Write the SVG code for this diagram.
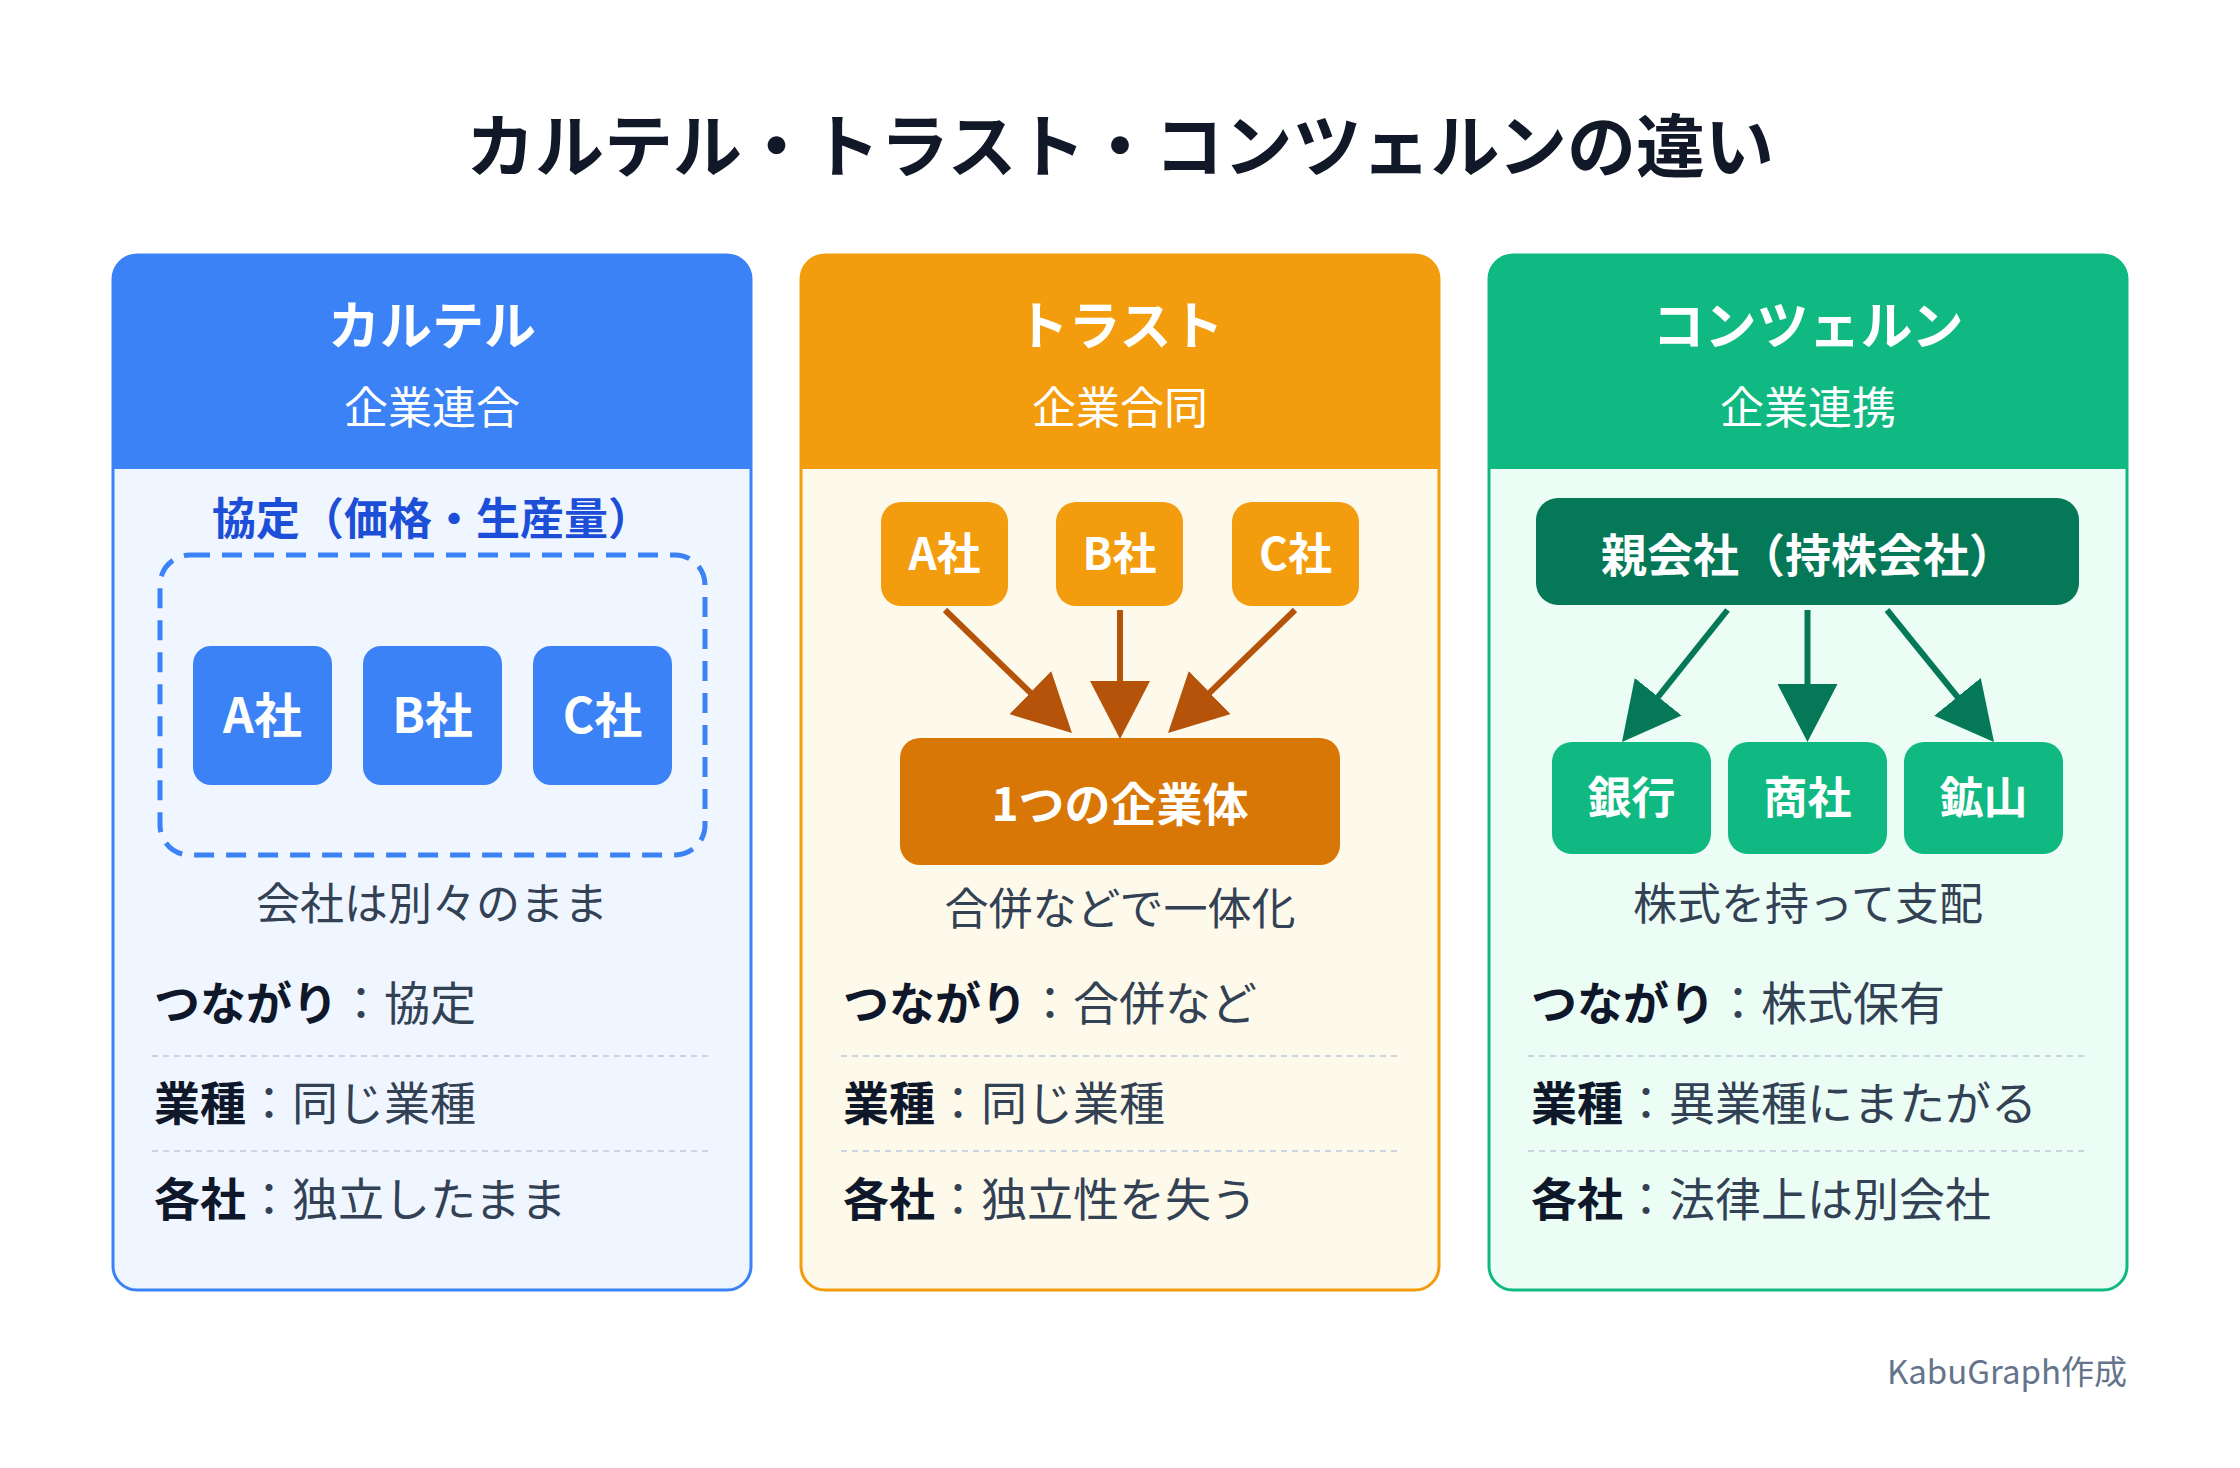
<svg xmlns="http://www.w3.org/2000/svg" width="2240" height="1468" viewBox="0 0 2240 1468">
<defs>
<style>
text{font-family:"Noto Sans CJK JP","Noto Sans",sans-serif;}
.title{font-size:69px;font-weight:700;fill:#111827;}
.htitle{font-size:52px;font-weight:700;fill:#ffffff;}
.hsub{font-size:44px;font-weight:400;fill:#ffffff;}
.box{font-size:46px;font-weight:700;fill:#ffffff;}
.desc{font-size:44px;font-weight:400;fill:#334155;}
.row{font-size:46px;font-weight:400;fill:#334155;}
.lab{font-weight:700;fill:#0F172A;}
.sep{stroke:#CBD5E1;stroke-width:2;stroke-dasharray:6 5;fill:none;}
.foot{font-size:33px;font-weight:400;fill:#64748B;}
</style>
<marker id="ahO" markerUnits="userSpaceOnUse" markerWidth="58" markerHeight="60" viewBox="0 0 58 60" refX="38" refY="30" orient="auto">
<path d="M0,0 L58,30 L0,60 Z" fill="#B45309"/>
</marker>
<marker id="ahG" markerUnits="userSpaceOnUse" markerWidth="58" markerHeight="60" viewBox="0 0 58 60" refX="38" refY="30" orient="auto">
<path d="M0,0 L58,30 L0,60 Z" fill="#047857"/>
</marker>
</defs>
<rect width="2240" height="1468" fill="#ffffff"/>
<text class="title" x="1120" y="172" text-anchor="middle">カルテル・トラスト・コンツェルンの違い</text>

<!-- Panel 1: Cartel -->
<g id="panel-cartel">
<rect x="113" y="255" width="638" height="1035" rx="24" fill="#EFF6FF"/>
<path d="M113,469 V279 A24,24 0 0 1 137,255 H727 A24,24 0 0 1 751,279 V469 Z" fill="#3B82F6"/>
<rect x="113" y="255" width="638" height="1035" rx="24" fill="none" stroke="#3B82F6" stroke-width="3"/>
<text class="htitle" x="432" y="345" text-anchor="middle">カルテル</text>
<text class="hsub" x="432" y="424" text-anchor="middle">企業連合</text>
<text x="432" y="535" text-anchor="middle" style="font-size:44px;font-weight:700;fill:#1D4ED8;">協定（価格・生産量）</text>
<rect x="160" y="555" width="545" height="300" rx="30" fill="none" stroke="#3B82F6" stroke-width="5" stroke-dasharray="20 12"/>
<text class="desc" x="432" y="920" text-anchor="middle">会社は別々のまま</text>
<line class="sep" x1="152" y1="1056" x2="712" y2="1056"/>
<line class="sep" x1="152" y1="1151" x2="712" y2="1151"/>
<text class="row" x="154" y="1020"><tspan class="lab">つながり</tspan>：協定</text>
<text class="row" x="154" y="1120"><tspan class="lab">業種</tspan>：同じ業種</text>
<text class="row" x="154" y="1216"><tspan class="lab">各社</tspan>：独立したまま</text>
</g>
<g id="cartel-a">
<rect x="193" y="646" width="139" height="139" rx="18" fill="#3B82F6"/>
<text class="box" x="262.5" y="733" text-anchor="middle" style="font-size:48px;">A社</text>
</g>
<g id="cartel-b">
<rect x="363" y="646" width="139" height="139" rx="18" fill="#3B82F6"/>
<text class="box" x="432.5" y="733" text-anchor="middle" style="font-size:48px;">B社</text>
</g>
<g id="cartel-c">
<rect x="533" y="646" width="139" height="139" rx="18" fill="#3B82F6"/>
<text class="box" x="602.5" y="733" text-anchor="middle" style="font-size:48px;">C社</text>
</g>

<!-- Panel 2: Trust -->
<g id="panel-trust">
<rect x="801" y="255" width="638" height="1035" rx="24" fill="#FEFAEB"/>
<path d="M801,469 V279 A24,24 0 0 1 825,255 H1415 A24,24 0 0 1 1439,279 V469 Z" fill="#F39C0E"/>
<rect x="801" y="255" width="638" height="1035" rx="24" fill="none" stroke="#F39C0E" stroke-width="3"/>
<text class="htitle" x="1120" y="345" text-anchor="middle">トラスト</text>
<text class="hsub" x="1120" y="424" text-anchor="middle">企業合同</text>
<text class="desc" x="1120" y="925" text-anchor="middle">合併などで一体化</text>
<line class="sep" x1="841" y1="1056" x2="1400" y2="1056"/>
<line class="sep" x1="841" y1="1151" x2="1400" y2="1151"/>
<text class="row" x="843" y="1020"><tspan class="lab">つながり</tspan>：合併など</text>
<text class="row" x="843" y="1120"><tspan class="lab">業種</tspan>：同じ業種</text>
<text class="row" x="843" y="1216"><tspan class="lab">各社</tspan>：独立性を失う</text>
</g>
<g id="trust-a">
<rect x="881" y="502" width="127" height="104" rx="20" fill="#F39C0E"/>
<text class="box" x="944.5" y="570" text-anchor="middle" style="font-size:44px;">A社</text>
</g>
<g id="trust-b">
<rect x="1056" y="502" width="127" height="104" rx="20" fill="#F39C0E"/>
<text class="box" x="1119.5" y="570" text-anchor="middle" style="font-size:44px;">B社</text>
</g>
<g id="trust-c">
<rect x="1232" y="502" width="127" height="104" rx="20" fill="#F39C0E"/>
<text class="box" x="1295.5" y="570" text-anchor="middle" style="font-size:44px;">C社</text>
</g>
<g id="trust-one">
<rect x="900" y="738" width="440" height="127" rx="20" fill="#D97706"/>
<text class="box" x="1120" y="821" text-anchor="middle">1つの企業体</text>
</g>

<!-- Panel 3: Konzern -->
<g id="panel-konzern">
<rect x="1489" y="255" width="638" height="1035" rx="24" fill="#ECFDF5"/>
<path d="M1489,469 V279 A24,24 0 0 1 1513,255 H2103 A24,24 0 0 1 2127,279 V469 Z" fill="#10B981"/>
<rect x="1489" y="255" width="638" height="1035" rx="24" fill="none" stroke="#10B981" stroke-width="3"/>
<text class="htitle" x="1808" y="345" text-anchor="middle">コンツェルン</text>
<text class="hsub" x="1808" y="424" text-anchor="middle">企業連携</text>
<text class="desc" x="1808" y="920" text-anchor="middle">株式を持って支配</text>
<line class="sep" x1="1528" y1="1056" x2="2088" y2="1056"/>
<line class="sep" x1="1528" y1="1151" x2="2088" y2="1151"/>
<text class="row" x="1531" y="1020"><tspan class="lab">つながり</tspan>：株式保有</text>
<text class="row" x="1531" y="1120"><tspan class="lab">業種</tspan>：異業種にまたがる</text>
<text class="row" x="1531" y="1216"><tspan class="lab">各社</tspan>：法律上は別会社</text>
</g>
<g id="konzern-parent">
<rect x="1536" y="498" width="543" height="107" rx="22" fill="#047857"/>
<text class="box" x="1808" y="572" text-anchor="middle">親会社（持株会社）</text>
</g>
<g id="konzern-bank">
<rect x="1552" y="742" width="159" height="112" rx="20" fill="#10B981"/>
<text class="box" x="1631.5" y="814" text-anchor="middle" style="font-size:44px;">銀行</text>
</g>
<g id="konzern-trade">
<rect x="1728" y="742" width="159" height="112" rx="20" fill="#10B981"/>
<text class="box" x="1807.5" y="814" text-anchor="middle" style="font-size:44px;">商社</text>
</g>
<g id="konzern-mine">
<rect x="1904" y="742" width="159" height="112" rx="20" fill="#10B981"/>
<text class="box" x="1983.5" y="814" text-anchor="middle" style="font-size:44px;">鉱山</text>
</g>

<g id="connectors" fill="none" stroke-width="6">
<line x1="945" y1="610" x2="1057.6" y2="719.1" stroke="#B45309" marker-end="url(#ahO)"/>
<line x1="1120" y1="610" x2="1120" y2="719" stroke="#B45309" marker-end="url(#ahO)"/>
<line x1="1295" y1="610" x2="1182.4" y2="719.1" stroke="#B45309" marker-end="url(#ahO)"/>
<line x1="1727.5" y1="610" x2="1634.5" y2="726.4" stroke="#047857" marker-end="url(#ahG)"/>
<line x1="1807.5" y1="610" x2="1807.5" y2="722" stroke="#047857" marker-end="url(#ahG)"/>
<line x1="1887" y1="610" x2="1981.4" y2="726.4" stroke="#047857" marker-end="url(#ahG)"/>
</g>

<text class="foot" x="2127" y="1384" text-anchor="end">KabuGraph作成</text>
</svg>
